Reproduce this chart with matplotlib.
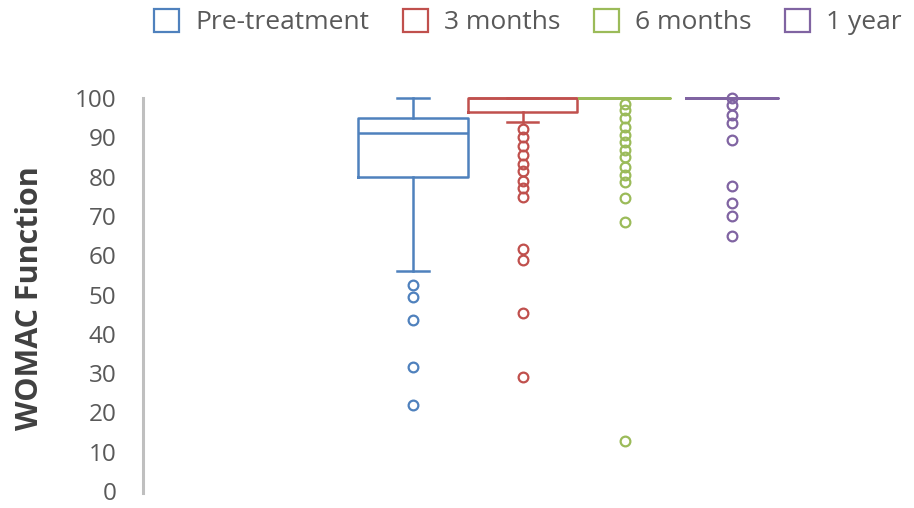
import matplotlib.pyplot as plt
from matplotlib.patches import Patch

# -----------------------------
# Data
# -----------------------------
GROUPS = ["Pre-treatment", "3 months", "6 months", "1 year"]

Q1 = [80, 96.5, 100, 100]
MEDIAN = [91, 100, 100, 100]
Q3 = [95, 100, 100, 100]
WHIS_LO = [56, 93.8, 100, 100]
WHIS_HI = [100, 100, 100, 100]

FLIERS = [
    [52.5, 49.4, 43.6, 31.6, 21.8],
    [92, 90, 87.8, 85.5, 83.3, 81.3, 79, 77, 74.8, 61.5, 58.8, 45.3, 29],
    [98.6, 96.9, 94.8, 92.7, 90.6, 88.9, 86.8, 85, 82.5, 80.4, 78.6, 74.5, 68.4, 12.8],
    [100, 98.2, 95.8, 93.6, 89.3, 77.5, 73.2, 69.9, 64.8],
]

Y_TICKS = list(range(0, 101, 10))

# -----------------------------
# Style
# -----------------------------
COLORS = ["#4F81BD", "#C0504D", "#9BBB59", "#8064A2"]
TEXT = "#595959"
LABEL = "#404040"
SPINE = "#BFBFBF"

plt.rcParams.update({
    "font.family": ["Open Sans", "DejaVu Sans"],
    "font.size": 17,
})

fig = plt.figure(figsize=(9.14, 5.08), dpi=100)
ax = fig.add_axes([143 / 914, (508 - 491) / 508, (800 - 143) / 914, (491 - 98) / 508])

positions = [1, 2.03, 2.99, 4]
widths = [1.03, 1.03, 0.86, 0.86]

for i, name in enumerate(GROUPS):
    c = COLORS[i]
    st = {
        "label": name,
        "q1": Q1[i],
        "med": MEDIAN[i],
        "q3": Q3[i],
        "whislo": WHIS_LO[i],
        "whishi": WHIS_HI[i],
        "fliers": FLIERS[i],
    }
    art = ax.bxp(
        [st],
        positions=[positions[i]],
        widths=[widths[i]],
        showfliers=True,
        boxprops=dict(color=c, linewidth=1.8),
        medianprops=dict(color=c, linewidth=1.8),
        whiskerprops=dict(color=c, linewidth=1.8),
        capprops=dict(color=c, linewidth=1.8),
        capwidths=[0.3],
        flierprops=dict(marker="o", markersize=7, markerfacecolor="none",
                        markeredgecolor=c, markeredgewidth=1.6),
        manage_ticks=False,
    )
    for group in art.values():
        for a in group:
            a.set_clip_on(False)

ax.set_xlim(-1.54, 4.64)
ax.set_ylim(0, 100)
ax.set_yticks(Y_TICKS)
ax.set_xticks([])
ax.tick_params(axis="y", length=0, pad=19, labelsize=17.5, labelcolor=TEXT)

for s in ["top", "right", "bottom"]:
    ax.spines[s].set_visible(False)
ax.spines["left"].set_color(SPINE)
ax.spines["left"].set_linewidth(2.2)
ax.spines["left"].set_bounds(-0.5, 100)

ax.set_ylabel("WOMAC Function", fontsize=22, fontweight="bold", color=LABEL)
ax.yaxis.set_label_coords((45 - 143) / 657, 0.49)

handles = [Patch(facecolor="none", edgecolor=c, linewidth=1.6) for c in COLORS]
fig.legend(
    handles, GROUPS,
    loc="center", bbox_to_anchor=(528 / 914, 1 - 22 / 508),
    ncol=4, frameon=False, fontsize=19, labelcolor=TEXT,
    handlelength=0.95, handleheight=0.95, handletextpad=0.6, columnspacing=1.28,
)

fig.savefig("out.png", dpi=100)
